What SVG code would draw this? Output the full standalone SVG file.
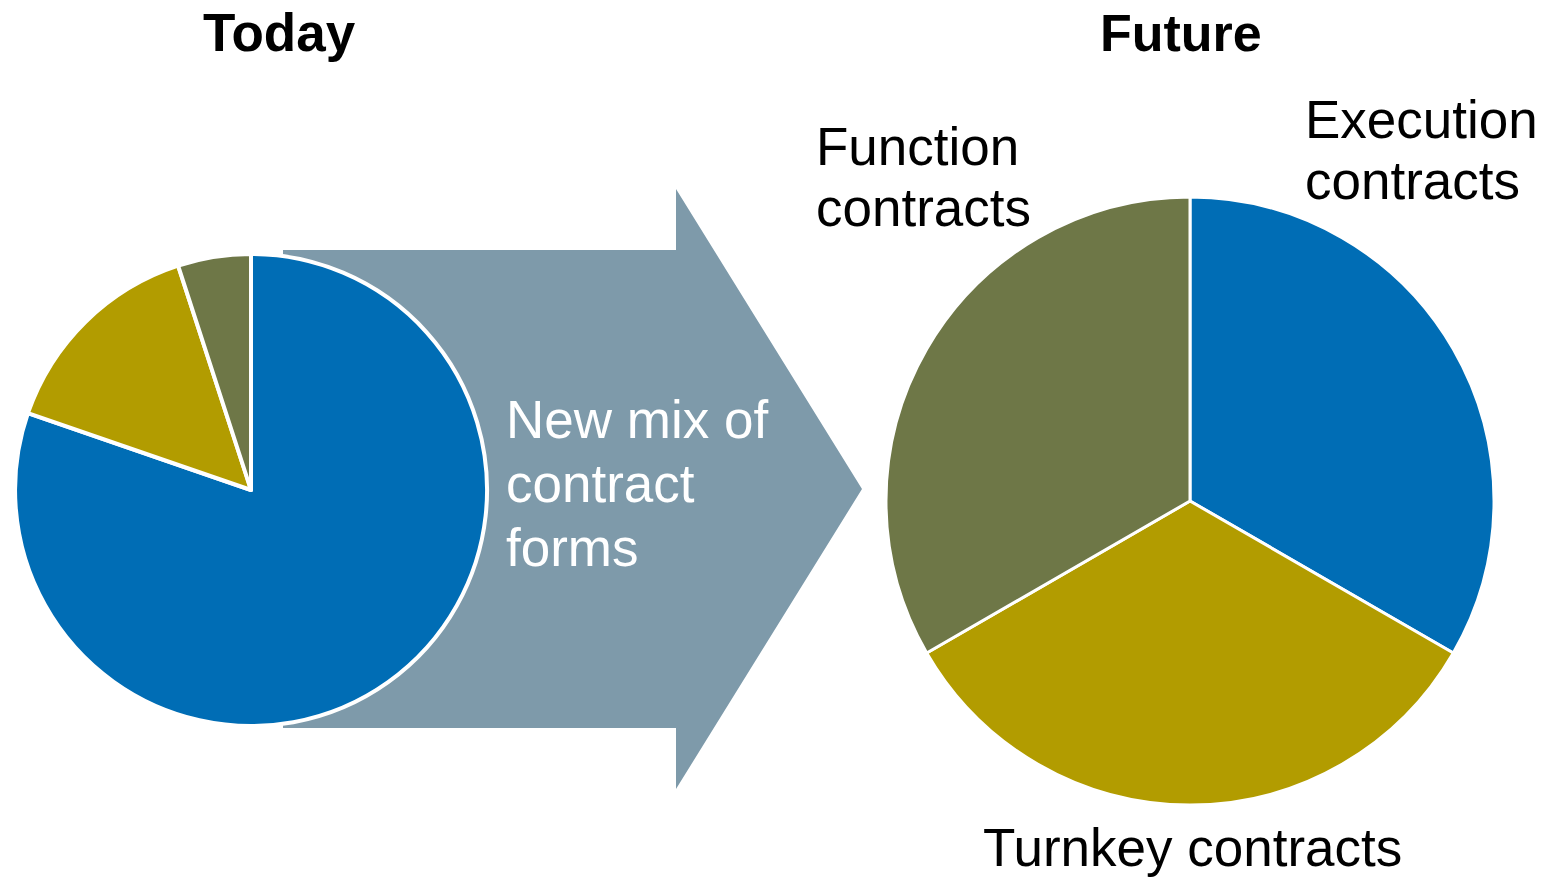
<svg xmlns="http://www.w3.org/2000/svg" width="1543" height="879" viewBox="0 0 1543 879">
  <style>
    .t { font-family: "Liberation Sans", Arial, sans-serif; font-size: 53px; fill: #000; }
    .b { font-weight: bold; font-size: 52px; }
    .w { fill: #fff; }
    .blue { fill: #006DB5; }
    .gold { fill: #B29C00; }
    .olive { fill: #6E7747; }
    .sl { stroke: #fff; stroke-width: 4; stroke-linejoin: round; }
    .sr { stroke: #fff; stroke-width: 3; stroke-linejoin: round; }
  </style>
  <rect width="1543" height="879" fill="#fff"/>
  <g id="connectors">
    <polygon id="transition-arrow" points="283,250 676,250 676,189 862,489 676,789 676,728 283,728" fill="#7E9AAA"/>
  </g>
  <g id="today-pie">
    <path class="blue sl" d="M251,490 L251,254 A236,236 0 1 1 27.9,413.2 Z"/>
    <path class="gold sl" d="M251,490 L27.9,413.2 A236,236 0 0 1 178.1,265.6 Z"/>
    <path class="olive sl" d="M251,490 L178.1,265.6 A236,236 0 0 1 251,254 Z"/>
  </g>
  <g id="future-pie">
    <path class="blue sr" d="M1190,501 L1190,197 A304,304 0 0 1 1453.3,653 Z"/>
    <path class="gold sr" d="M1190,501 L1453.3,653 A304,304 0 0 1 926.7,653 Z"/>
    <path class="olive sr" d="M1190,501 L926.7,653 A304,304 0 0 1 1190,197 Z"/>
  </g>
  <g id="title-today">
    <text class="t b" x="203" y="51" style="font-size:53px">Today</text>
  </g>
  <g id="title-future">
    <text class="t b" x="1100" y="51">Future</text>
  </g>
  <g id="label-arrow">
    <text class="t w" x="506" y="438">New mix of</text>
    <text class="t w" x="506" y="502">contract</text>
    <text class="t w" x="506" y="566">forms</text>
  </g>
  <g id="label-function">
    <text class="t" x="816" y="165">Function</text>
    <text class="t" x="816" y="226">contracts</text>
  </g>
  <g id="label-execution">
    <text class="t" x="1305" y="138">Execution</text>
    <text class="t" x="1305" y="199">contracts</text>
  </g>
  <g id="label-turnkey">
    <text class="t" x="983" y="866">Turnkey contracts</text>
  </g>
</svg>
